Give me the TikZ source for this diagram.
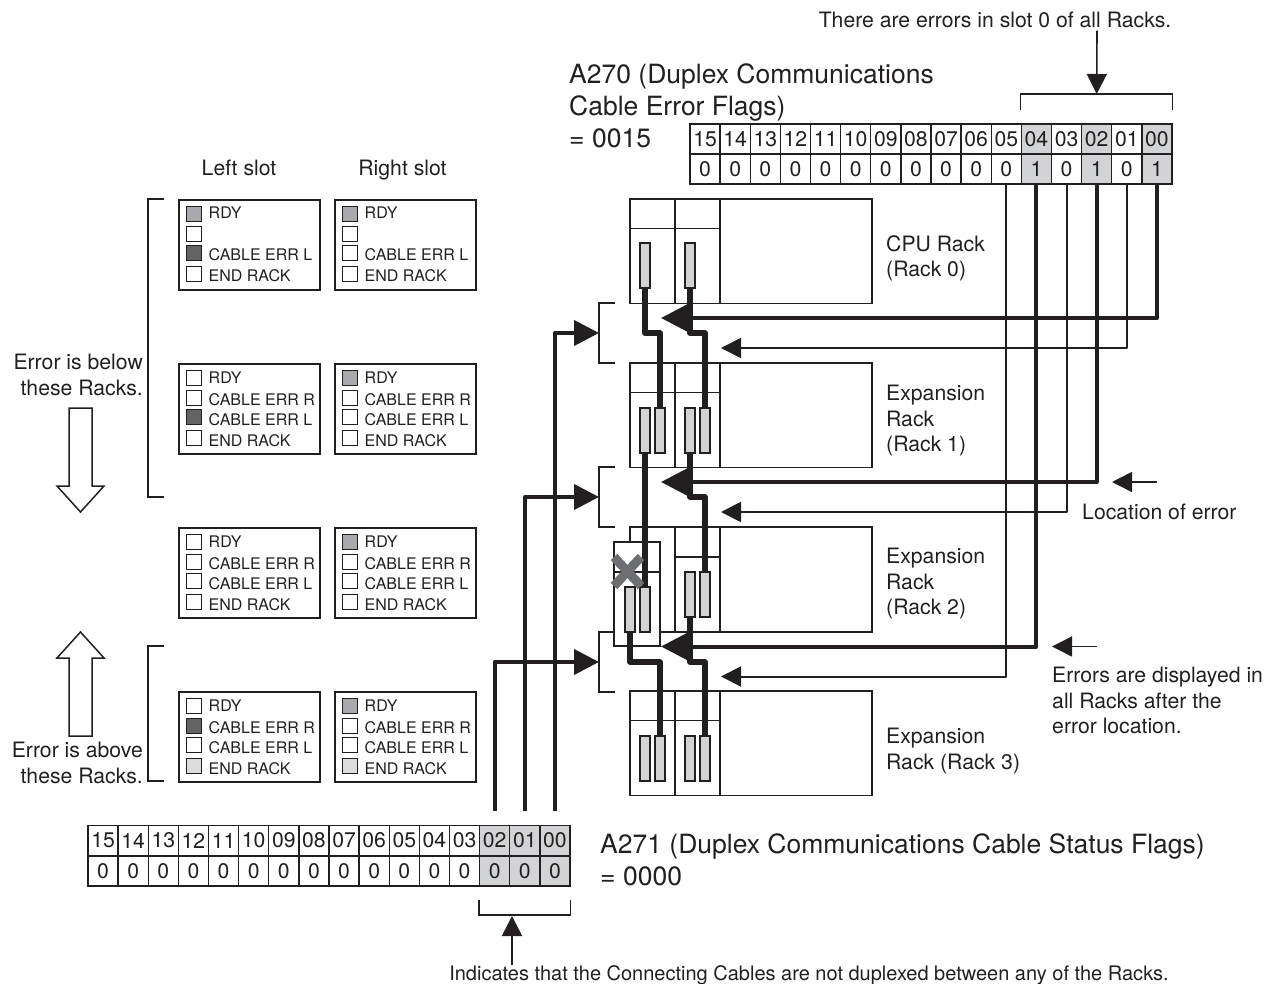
\documentclass[tikz,border=0pt]{standalone}
\usepackage{fontspec}
\setmainfont{TeX Gyre Heros}
\usetikzlibrary{calc, positioning}
\usetikzlibrary{arrows.meta}
\definecolor{ink}{HTML}{231F20}
\definecolor{cardgray}{HTML}{D1D3D4}
\definecolor{cellgray}{HTML}{D1D3D4}
\definecolor{ledmid}{HTML}{A7A9AC}
\definecolor{leddark}{HTML}{636466}
\definecolor{ledlight}{HTML}{DCDDDE}
\definecolor{crossgray}{HTML}{6D6E71}
\newcommand{\fnbig}{\fontsize{26.5}{32}\selectfont}
\newcommand{\fnmid}{\fontsize{21.2}{25.6}\selectfont}
\newcommand{\fnled}{\fontsize{16}{18}\selectfont}
\tikzset{
  frame/.style={draw=ink, line width=1.7pt},
  regcell/.style={draw=ink, line width=1.3pt, minimum width=30.125pt, minimum height=30pt, inner sep=0pt, text=ink, font=\fnmid},
  card/.style={draw=ink, line width=1.5pt, fill=cardgray, minimum width=10pt, minimum height=45pt, inner sep=0pt},
  cable/.style={draw=ink, line width=5.5pt, line join=round},
  flagbold/.style={draw=ink, line width=4pt, line join=round, -{Triangle[length=26pt, width=26pt]}},
  flagthin/.style={draw=ink, line width=2pt, line join=round, -{Triangle[length=20pt, width=20pt]}},
  note/.style={draw=ink, line width=1.6pt, -{Triangle[length=20pt, width=20pt]}},
  led/.style={draw=ink, line width=1.5pt, minimum size=15pt, inner sep=0pt},
  ledtext/.style={anchor=base west, inner sep=0pt, text=ink, font=\fnled},
  panel/.style={draw=ink, line width=1.7pt, minimum width=141pt, minimum height=90pt, inner sep=0pt, anchor=north west},
  mid/.style={inner sep=0pt, text=ink, font=\fnmid, align=left},
  big/.style={inner sep=0pt, text=ink, font=\fnbig, align=left},
}
% one status panel: name, x, y, text of row 2, four led colours
\newcommand{\slotpanel}[8]{
  \node[panel] (#1) at (#2,#3) {};
  \foreach \row/\cy/\by/\ledc/\txt in {1/15/20/#5/RDY, 2/35/42/#6/{#4}, 3/54/62/#7/CABLE ERR L, 4/75/83/#8/END RACK} {
    \node[led, fill=\ledc] (#1led\row) at ($(#1.north west)+(16,\cy)$) {};
    \node[ledtext] (#1txt\row) at ($(#1.north west)+(30.5,\by)$) {\txt};
  }
}
\begin{document}
\begin{tikzpicture}[x=1pt, y=-1pt]
\useasboundingbox (0,0) rectangle (1269,984);

% racks
\foreach \y in {199,363,691} {
  \draw[frame] (630,\y) rectangle (872,\y+104.5);
  \draw[frame] (675,\y) -- (675,\y+104.5);
  \draw[frame] (720,\y) -- (720,\y+104.5);
  \draw[frame] (630,\y+29.5) -- (720,\y+29.5);
}
\draw[frame] (630,545) -- (630,527) -- (872,527) -- (872,632) -- (640,632);
\draw[frame] (675,527) -- (675,632);
\draw[frame] (720,527) -- (720,632);
\draw[frame] (675,557) -- (720,557);
\node[draw=ink, line width=1.3pt, fill=white, minimum width=46pt, minimum height=104pt, inner sep=0pt] (loose) at (637,594) {};
\draw[draw=ink, line width=1.3pt] (loose.west |- 0,572) -- (loose.east |- 0,572);

% connector cards
\node[card] (c0l) at (645,265.5) {};
\node[card] (c0r) at (690,265.5) {};
\node[card] (c1la) at (645,430.5) {};
\node[card] (c1lb) at (660,430.5) {};
\node[card] (c1ra) at (690,430.5) {};
\node[card] (c1rb) at (705,430.5) {};
\node[card] (c2la) at (630,609.5) {};
\node[card] (c2lb) at (645,609.5) {};
\node[card] (c2ra) at (690,594.5) {};
\node[card] (c2rb) at (705,594.5) {};
\node[card] (c3la) at (645,758.5) {};
\node[card] (c3lb) at (660,758.5) {};
\node[card] (c3ra) at (690,758.5) {};
\node[card] (c3rb) at (705,758.5) {};

% cables
\draw[cable] (c0l.south) -- (645,333) -| (c1lb.north);
\draw[cable] (c0r.south) -- (690,333) -| (c1rb.north);
\draw[cable] (c1la.south) -- (c2lb.north);
\draw[cable] (c1ra.south) -- (690,497) -| (c2rb.north);
\draw[cable] (c2la.south) -- (630,662) -| (c3lb.north);
\draw[cable] (c2ra.south) -- (690,662) -| (c3rb.north);

% broken cable mark
\draw[crossgray, line width=9pt] (614,557) -- (641,586);
\draw[crossgray, line width=9pt] (641,557) -- (614,586);

% brackets beside the racks
\foreach \y in {303,467,632} {
  \draw[frame, line width=1.5pt] (615,\y) -- (599,\y) -- (599,\y+60) -- (615,\y+60);
}
\coordinate (gap0) at (599,333);
\coordinate (gap1) at (599,497);
\coordinate (gap2) at (599,662);

% A270 register
\foreach \lab/\val/\cc [count=\k from 0] in {15/0/white,14/0/white,13/0/white,12/0/white,11/0/white,10/0/white,09/0/white,08/0/white,07/0/white,06/0/white,05/0/white,04/1/cellgray,03/0/white,02/1/cellgray,01/0/white,00/1/cellgray} {
  \node[regcell, fill=\cc] (a\lab) at ({690+(\k+0.5)*30.125},139) {\lab};
  \node[regcell, fill=\cc] (av\lab) at ({690+(\k+0.5)*30.125},169) {\val};
}

% A271 register
\foreach \lab/\cc [count=\k from 0] in {15/white,14/white,13/white,12/white,11/white,10/white,09/white,08/white,07/white,06/white,05/white,04/white,03/white,02/cellgray,01/cellgray,00/cellgray} {
  \node[regcell, fill=\cc] (b\lab) at ({88+(\k+0.5)*30.125},840.5) {\lab};
  \node[regcell, fill=\cc] (bv\lab) at ({88+(\k+0.5)*30.125},871) {0};
}

% flags down to the racks
\draw[flagbold] (av00.south) |- (661,318);
\draw[flagthin] (av01.south) |- (721,348);
\draw[flagbold] (av02.south) |- (661,482);
\draw[flagthin] (av03.south) |- (721,512);
\draw[flagbold] (av04.south) |- (661,646.5);
\draw[flagthin] (av05.south) |- (721,676.5);

% status flags up to the brackets
\draw[flagbold, -{Triangle[length=25pt, width=25pt]}] ($(b00.north)+(0,-14)$) |- (gap0);
\draw[flagbold, -{Triangle[length=25pt, width=25pt]}] ($(b01.north)+(0,-14)$) |- (gap1);
\draw[flagbold, -{Triangle[length=25pt, width=25pt]}] ($(b02.north)+(0,-14)$) |- (gap2);

% top and bottom brace
\draw[frame, line width=1.5pt] (a04.west |- 0,110) -- (a04.west |- 0,94) -- (a00.east |- 0,94) -- (a00.east |- 0,110);
\draw[frame, line width=1.5pt] (b02.west |- 0,900) -- (b02.west |- 0,915) -- (b00.east |- 0,915) -- (b00.east |- 0,900);

% status panels
\slotpanel{pa}{178}{199}{}{ledmid}{white}{leddark}{white}
\slotpanel{pb}{334}{199}{}{ledmid}{white}{white}{white}
\slotpanel{pc}{178}{363}{CABLE ERR R}{white}{white}{leddark}{white}
\slotpanel{pd}{334}{363}{CABLE ERR R}{ledmid}{white}{white}{white}
\slotpanel{pe}{178}{527}{CABLE ERR R}{white}{white}{white}{white}
\slotpanel{pf}{334}{527}{CABLE ERR R}{ledmid}{white}{white}{white}
\slotpanel{pg}{178}{691}{CABLE ERR R}{white}{leddark}{white}{ledlight}
\slotpanel{ph}{334}{691}{CABLE ERR R}{ledmid}{white}{white}{ledlight}

% brackets beside the panels
\draw[frame, line width=1.5pt] (164,199) -- (148,199) -- (148,497) -- (164,497);
\draw[frame, line width=1.5pt] (164,646) -- (148,646) -- (148,781) -- (164,781);

% open arrows
\draw[draw=ink, line width=1.5pt] (69,408) -- (92,408) -- (92,486) -- (104,486) -- (80.5,512) -- (57,486) -- (69,486) -- cycle;
\draw[draw=ink, line width=1.5pt] (69,736) -- (92,736) -- (92,658) -- (104,658) -- (80.5,632) -- (57,658) -- (69,658) -- cycle;

% text
\node[mid, anchor=base] (leftslot) at (239,176) {Left slot};
\node[mid, anchor=base] (rightslot) at (402.5,176) {Right slot};
\node[mid, anchor=north east, align=right] (below) at (143,354) {Error is below\\these Racks.};
\node[mid, anchor=north east, align=right] (above) at (143,742) {Error is above\\these Racks.};
\node[mid, anchor=base] (alltext) at (995,28) {There are errors in slot 0 of all Racks.};
\node[big, anchor=north west] (a270) at (569,64) {A270 (Duplex Communications\\Cable Error Flags)\\= 0015};
\node[big, anchor=north west] (a271) at (600,833) {A271 (Duplex Communications Cable Status Flags)\\= 0000};
\node[mid, anchor=north west] (rack0) at (886,235) {CPU Rack\\(Rack 0)};
\node[mid, anchor=north west] (rack1) at (886,385) {Expansion\\Rack\\(Rack 1)};
\node[mid, anchor=north west] (rack2) at (886,548) {Expansion\\Rack\\(Rack 2)};
\node[mid, anchor=north west] (rack3) at (886,728) {Expansion\\Rack (Rack 3)};
\node[mid, anchor=north west] (locerr) at (1082,504) {Location of error};
\node[mid, anchor=north west] (afterloc) at (1052,667) {Errors are displayed in\\all Racks after the\\error location.};
\node[mid, anchor=base, font=\fontsize{20}{24}\selectfont] (indicates) at (809,980) {Indicates that the Connecting Cables are not duplexed between any of the Racks.};

% pointers
\coordinate (notea) at (1157,482);
\coordinate (noteb) at (1097,646.5);
\draw[note] ($(alltext.south -| 1097,0)+(0,2)$) -- (a02.north |- 0,94);
\draw[note] (notea) -- (1112,482);
\draw[note] (noteb) -- (1052,646.5);
\draw[note] (indicates.north -| 512,0) -- (512,916);
\end{tikzpicture}
\end{document}
